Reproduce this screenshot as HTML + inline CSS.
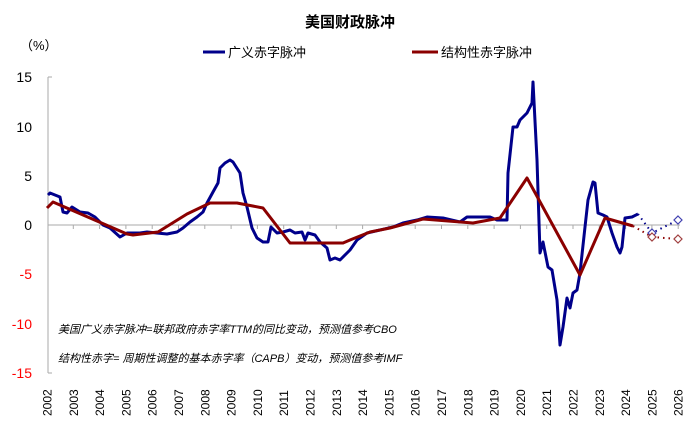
<!DOCTYPE html><html><head><meta charset="utf-8"><style>
body{margin:0;background:#fff}
svg text{font-family:"Liberation Sans","Noto Sans CJK SC",sans-serif}
</style></head><body>
<svg width="700" height="430" xmlns="http://www.w3.org/2000/svg">
<text x="350" y="27" font-size="15" font-weight="bold" text-anchor="middle">美国财政脉冲</text>
<text x="20" y="50" font-size="13">（%）</text>
<line x1="203" y1="52" x2="225" y2="52" stroke="#00008B" stroke-width="3"/>
<text x="228" y="57" font-size="13">广义赤字脉冲</text>
<line x1="412" y1="52" x2="438" y2="52" stroke="#8B0000" stroke-width="3"/>
<text x="441" y="57" font-size="13">结构性赤字脉冲</text>
<g font-size="14" text-anchor="end">
<text x="32" y="82">15</text><text x="32" y="132">10</text><text x="32" y="181">5</text><text x="32" y="230">0</text>
<text x="32" y="279" fill="red">-5</text><text x="32" y="329" fill="red">-10</text><text x="32" y="378" fill="red">-15</text>
</g>
<line x1="48" y1="77" x2="48" y2="373" stroke="#aaa"/>
<g stroke="#aaa"><line x1="48" y1="77" x2="52" y2="77"/><line x1="48" y1="373" x2="52" y2="373"/></g>
<line x1="48" y1="225" x2="680" y2="225" stroke="#aaa"/>
<g stroke="#aaa">
<line x1="73.3" y1="225" x2="73.3" y2="229"/><line x1="99.6" y1="225" x2="99.6" y2="229"/><line x1="125.9" y1="225" x2="125.9" y2="229"/><line x1="152.2" y1="225" x2="152.2" y2="229"/><line x1="178.5" y1="225" x2="178.5" y2="229"/><line x1="204.8" y1="225" x2="204.8" y2="229"/><line x1="231.1" y1="225" x2="231.1" y2="229"/><line x1="257.4" y1="225" x2="257.4" y2="229"/><line x1="283.7" y1="225" x2="283.7" y2="229"/><line x1="310" y1="225" x2="310" y2="229"/><line x1="336.3" y1="225" x2="336.3" y2="229"/><line x1="362.6" y1="225" x2="362.6" y2="229"/><line x1="388.9" y1="225" x2="388.9" y2="229"/><line x1="415.2" y1="225" x2="415.2" y2="229"/><line x1="441.5" y1="225" x2="441.5" y2="229"/><line x1="467.8" y1="225" x2="467.8" y2="229"/><line x1="494.1" y1="225" x2="494.1" y2="229"/><line x1="520.4" y1="225" x2="520.4" y2="229"/><line x1="546.7" y1="225" x2="546.7" y2="229"/><line x1="573" y1="225" x2="573" y2="229"/><line x1="599.3" y1="225" x2="599.3" y2="229"/><line x1="625.6" y1="225" x2="625.6" y2="229"/><line x1="651.9" y1="225" x2="651.9" y2="229"/><line x1="678.2" y1="225" x2="678.2" y2="229"/>
</g>
<g font-size="12">
<text transform="translate(51.5,416) rotate(-90)">2002</text>
<text transform="translate(77.8,416) rotate(-90)">2003</text>
<text transform="translate(104.1,416) rotate(-90)">2004</text>
<text transform="translate(130.4,416) rotate(-90)">2005</text>
<text transform="translate(156.7,416) rotate(-90)">2006</text>
<text transform="translate(183,416) rotate(-90)">2007</text>
<text transform="translate(209.3,416) rotate(-90)">2008</text>
<text transform="translate(235.6,416) rotate(-90)">2009</text>
<text transform="translate(261.9,416) rotate(-90)">2010</text>
<text transform="translate(288.2,416) rotate(-90)">2011</text>
<text transform="translate(314.5,416) rotate(-90)">2012</text>
<text transform="translate(340.8,416) rotate(-90)">2013</text>
<text transform="translate(367.1,416) rotate(-90)">2014</text>
<text transform="translate(393.4,416) rotate(-90)">2015</text>
<text transform="translate(419.7,416) rotate(-90)">2016</text>
<text transform="translate(446,416) rotate(-90)">2017</text>
<text transform="translate(472.3,416) rotate(-90)">2018</text>
<text transform="translate(498.6,416) rotate(-90)">2019</text>
<text transform="translate(524.9,416) rotate(-90)">2020</text>
<text transform="translate(551.2,416) rotate(-90)">2021</text>
<text transform="translate(577.5,416) rotate(-90)">2022</text>
<text transform="translate(603.8,416) rotate(-90)">2023</text>
<text transform="translate(630.1,416) rotate(-90)">2024</text>
<text transform="translate(656.4,416) rotate(-90)">2025</text>
<text transform="translate(682.7,416) rotate(-90)">2026</text>
</g>
<text x="58" y="333" font-size="11" font-style="italic">美国广义赤字脉冲=联邦政府赤字率TTM的同比变动，预测值参考CBO</text>
<text x="58" y="362" font-size="11" font-style="italic">结构性赤字= 周期性调整的基本赤字率（CAPB）变动，预测值参考IMF</text>
<polyline fill="none" stroke="#00008B" stroke-width="3" stroke-linejoin="round" points="48,195 50,193 60,197 63,212 67,213 72,207 80,212 88,213 95,217 103,225 110,228 120,237 127,233 140,233 147,232 157,233 167,234 177,232 183,228 190,222 197,217 203,212 207,203 213,192 218,183 220,168 225,163 230,160 233,162 240,173 243,193 247,207 252,228 257,238 263,242 268,242 271,227 277,233 283,232 290,230 295,233 302,232 305,240 308,233 315,235 320,242 327,248 330,260 335,258 340,260 347,253 350,250 357,240 367,233 380,230 393,227 403,223 417,220 427,217 443,218 460,222 467,217 477,217 490,217 497,220 507,220 508,173 513,127 517,127 520,120 527,113 532,103 533,82 537,160 540,253 543,242 548,267 552,270 557,300 560,345 563,327 567,298 570,308 573,293 577,290 580,273 585,227 588,200 593,182 595,183 598,213 603,215 607,217 612,233 617,247 620,253 622,247 625,218 632,217 638,214"/>
<polyline fill="none" stroke="#8B0000" stroke-width="3" stroke-linejoin="round" points="47,208 53,202 127,234 133,235 158,232 187,214 210,203 237,203 263,208 290,243 343,243 350,240 370,232 390,228 423,219 473,223 500,218 527,178 580,275 605,218 633,226"/>
<polyline fill="none" stroke="#00008B" stroke-width="2" stroke-dasharray="1.5,4" points="638,214 652,233 678,220"/>
<polyline fill="none" stroke="#8B0000" stroke-width="2" stroke-dasharray="1.5,4" points="633,226 652,237 678,239"/>
<g fill="#fff" stroke-width="1.2">
<path d="M652 229 L656 233 L652 237 L648 233Z" stroke="#4040b0"/>
<path d="M678 216 L682 220 L678 224 L674 220Z" stroke="#4040b0"/>
<path d="M652 233 L656 237 L652 241 L648 237Z" stroke="#a04040"/>
<path d="M678 235 L682 239 L678 243 L674 239Z" stroke="#a04040"/>
</g>
</svg>
</body></html>
